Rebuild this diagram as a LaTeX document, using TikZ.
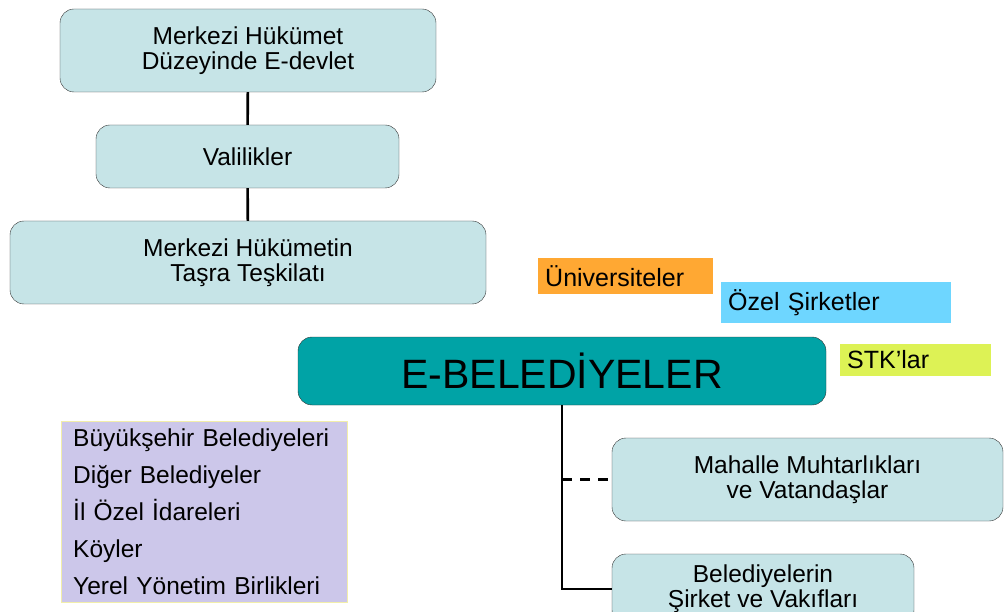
\documentclass[tikz,border=0pt]{standalone}
\usepackage{fontspec}
\setmainfont{Liberation Sans}
\usepackage{tikz}

\definecolor{boxfill}{RGB}{198,228,231}
\definecolor{tealfill}{RGB}{0,163,166}
\definecolor{lilac}{RGB}{204,199,234}
\definecolor{lilacedge}{RGB}{242,238,170}
\definecolor{orangefill}{RGB}{255,168,51}
\definecolor{bluefill}{RGB}{110,214,255}
\definecolor{limefill}{RGB}{221,242,85}

\tikzset{
	unit/.style={shape=rectangle,rounded corners=14pt,draw=black!80,fill=boxfill,align=center,font=\fontsize{24.5}{25}\selectfont},
	actor/.style={shape=rectangle,anchor=west,minimum height=32pt,inner sep=7pt,align=left,font=\fontsize{25}{25}\selectfont},
	link/.style={line width=2.6pt}
}

\begin{document}
\begin{tikzpicture}[x=1pt,y=-1pt]
	\useasboundingbox (0,0) rectangle (1004,612);
	
	\node[unit,minimum width=376pt,minimum height=83pt] (edevlet) at (248, 50.5)     {Merkezi Hükümet\\Düzeyinde E-devlet};
	\node[unit,minimum width=303pt,minimum height=63pt] (vali) at (247.5, 156.5)     {Valilikler};
	\node[unit,minimum width=476pt,minimum height=83pt] (tasra) at (248, 262.5)     {Merkezi Hükümetin\\Taşra Teşkilatı};
	
	\node[actor,fill=orangefill,text width=161pt] (univ) at (538, 276)     {Üniversiteler};
	\node[actor,fill=bluefill,text width=216pt] (sirket) at (721, 302.5)     {Özel Şirketler};
	\node[actor,fill=limefill,text width=137pt] (stk) at (840, 360)     {STK’lar};
	
	\node[unit,fill=tealfill,minimum width=528pt,minimum height=68pt,font=\fontsize{41}{45}\selectfont] (ebel) at (562, 371)     {E-BELEDİYELER};
	
	\node[shape=rectangle,draw=lilacedge,fill=lilac,anchor=north west,minimum height=181pt,text width=262pt,inner xsep=12pt,inner ysep=0pt,align=left,font=\fontsize{24.5}{37}\selectfont] (yerel) at (61, 421)
		{Büyükşehir Belediyeleri\\Diğer Belediyeler\\İl Özel İdareleri\\Köyler\\Yerel Yönetim Birlikleri};
	
	\node[unit,minimum width=391pt,minimum height=83pt] (muhtar) at (807.5, 479.5)     {Mahalle Muhtarlıkları\\ve Vatandaşlar};
	\node[unit,minimum width=302pt,minimum height=70pt] (vakif) at (763, 589)     {Belediyelerin\\Şirket ve Vakıfları};
	
	\path[link] (edevlet) edge (vali);
	\path[link] (vali) edge (tasra);
	\draw[link] (ebel.south) -- (ebel.south |- vakif.west) -- (vakif.west);
	\draw[link,dashed,dash pattern=on 10pt off 8pt] (ebel.south |- muhtar.west) -- (muhtar.west);
\end{tikzpicture}
\end{document}
